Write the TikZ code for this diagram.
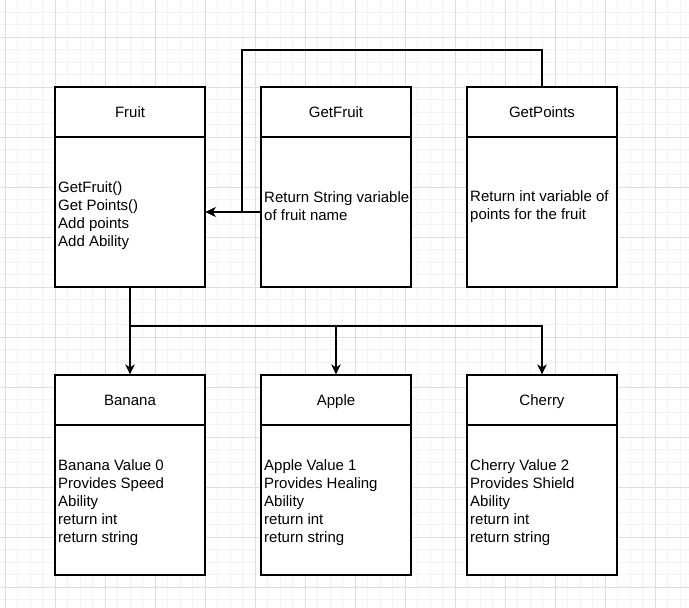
\documentclass[tikz,border=0pt]{standalone}
\usepackage{fontspec}
\setmainfont{Liberation Sans}
\usetikzlibrary{arrows.meta}
\begin{document}
\begin{tikzpicture}[x=1pt,y=-1pt,
  box/.style={draw=black,line width=1.25pt,fill=white,minimum width=150pt,inner sep=0pt},
  hdr/.style={box,minimum height=50pt,text height=13.9pt,text depth=3.2pt,font=\fontsize{15}{18}\selectfont},
  bodybox/.style={box,minimum height=150pt},
  txt/.style={anchor=west,align=left,inner sep=0pt,font=\fontsize{15}{18}\selectfont},
  arr/.style={draw=black,line width=1.25pt,-{Stealth[length=10pt,width=9.5pt,inset=3pt]}},
  minorgrid/.style={draw={rgb,255:red,243;green,243;blue,243},line width=0.8pt},
  majorgrid/.style={draw={rgb,255:red,223;green,223;blue,223},line width=1pt}]
\useasboundingbox (0,0) rectangle (689,608);
\fill[white] (0,0) rectangle (689,608);
% grid
\foreach \k in {0,...,54} {\draw[minorgrid] ({5+12.5*\k},0) -- ({5+12.5*\k},608);}
\foreach \k in {0,...,48} {\draw[minorgrid] (0,{12+12.5*\k}) -- (689,{12+12.5*\k});}
\foreach \k in {0,...,13} {\draw[majorgrid] ({5+50*\k},0) -- ({5+50*\k},608);}
\foreach \k in {0,...,11} {\draw[majorgrid] (0,{37+50*\k}) -- (689,{37+50*\k});}
% top row
\node[hdr] (fruith) at (130,112) {Fruit};
\node[bodybox] (fruitb) at (130,212) {};
\node[txt] (fruitt) at (58,215.5) {GetFruit()\\Get Points()\\Add points\\Add Ability};
\node[hdr] (gfh) at (336,112) {GetFruit};
\node[bodybox] (gfb) at (336,212) {};
\node[txt] (gft) at (264,206.5) {Return String variable\\of fruit name};
\node[hdr] (gph) at (542,112) {GetPoints};
\node[bodybox] (gpb) at (542,212) {};
\node[txt] (gpt) at (470,206.5) {Return int variable of\\points for the fruit};
% bottom row
\node[hdr] (banh) at (130,400) {Banana};
\node[bodybox] (banb) at (130,500) {};
\node[txt] (bant) at (58,502.5) {Banana Value 0\\Provides Speed\\Ability\\return int\\return string};
\node[hdr] (apph) at (336,400) {Apple};
\node[bodybox] (appb) at (336,500) {};
\node[txt] (appt) at (264,502.5) {Apple Value 1\\Provides Healing\\Ability\\return int\\return string};
\node[hdr] (cherh) at (542,400) {Cherry};
\node[bodybox] (cherb) at (542,500) {};
\node[txt] (chert) at (470,502.5) {Cherry Value 2\\Provides Shield\\Ability\\return int\\return string};
% connectors
\coordinate (j) at (130,326);
\coordinate (c1) at (242,50);
\draw[arr] (fruitb.south) -- (banh.north);
\draw[arr] (j) -| (apph.north);
\draw[arr] (j) -| (cherh.north);
\draw[arr] (gfb.west) -- (fruitb.east);
\draw[arr] (gph.north) |- (c1) |- (fruitb.east);
\end{tikzpicture}
\end{document}
